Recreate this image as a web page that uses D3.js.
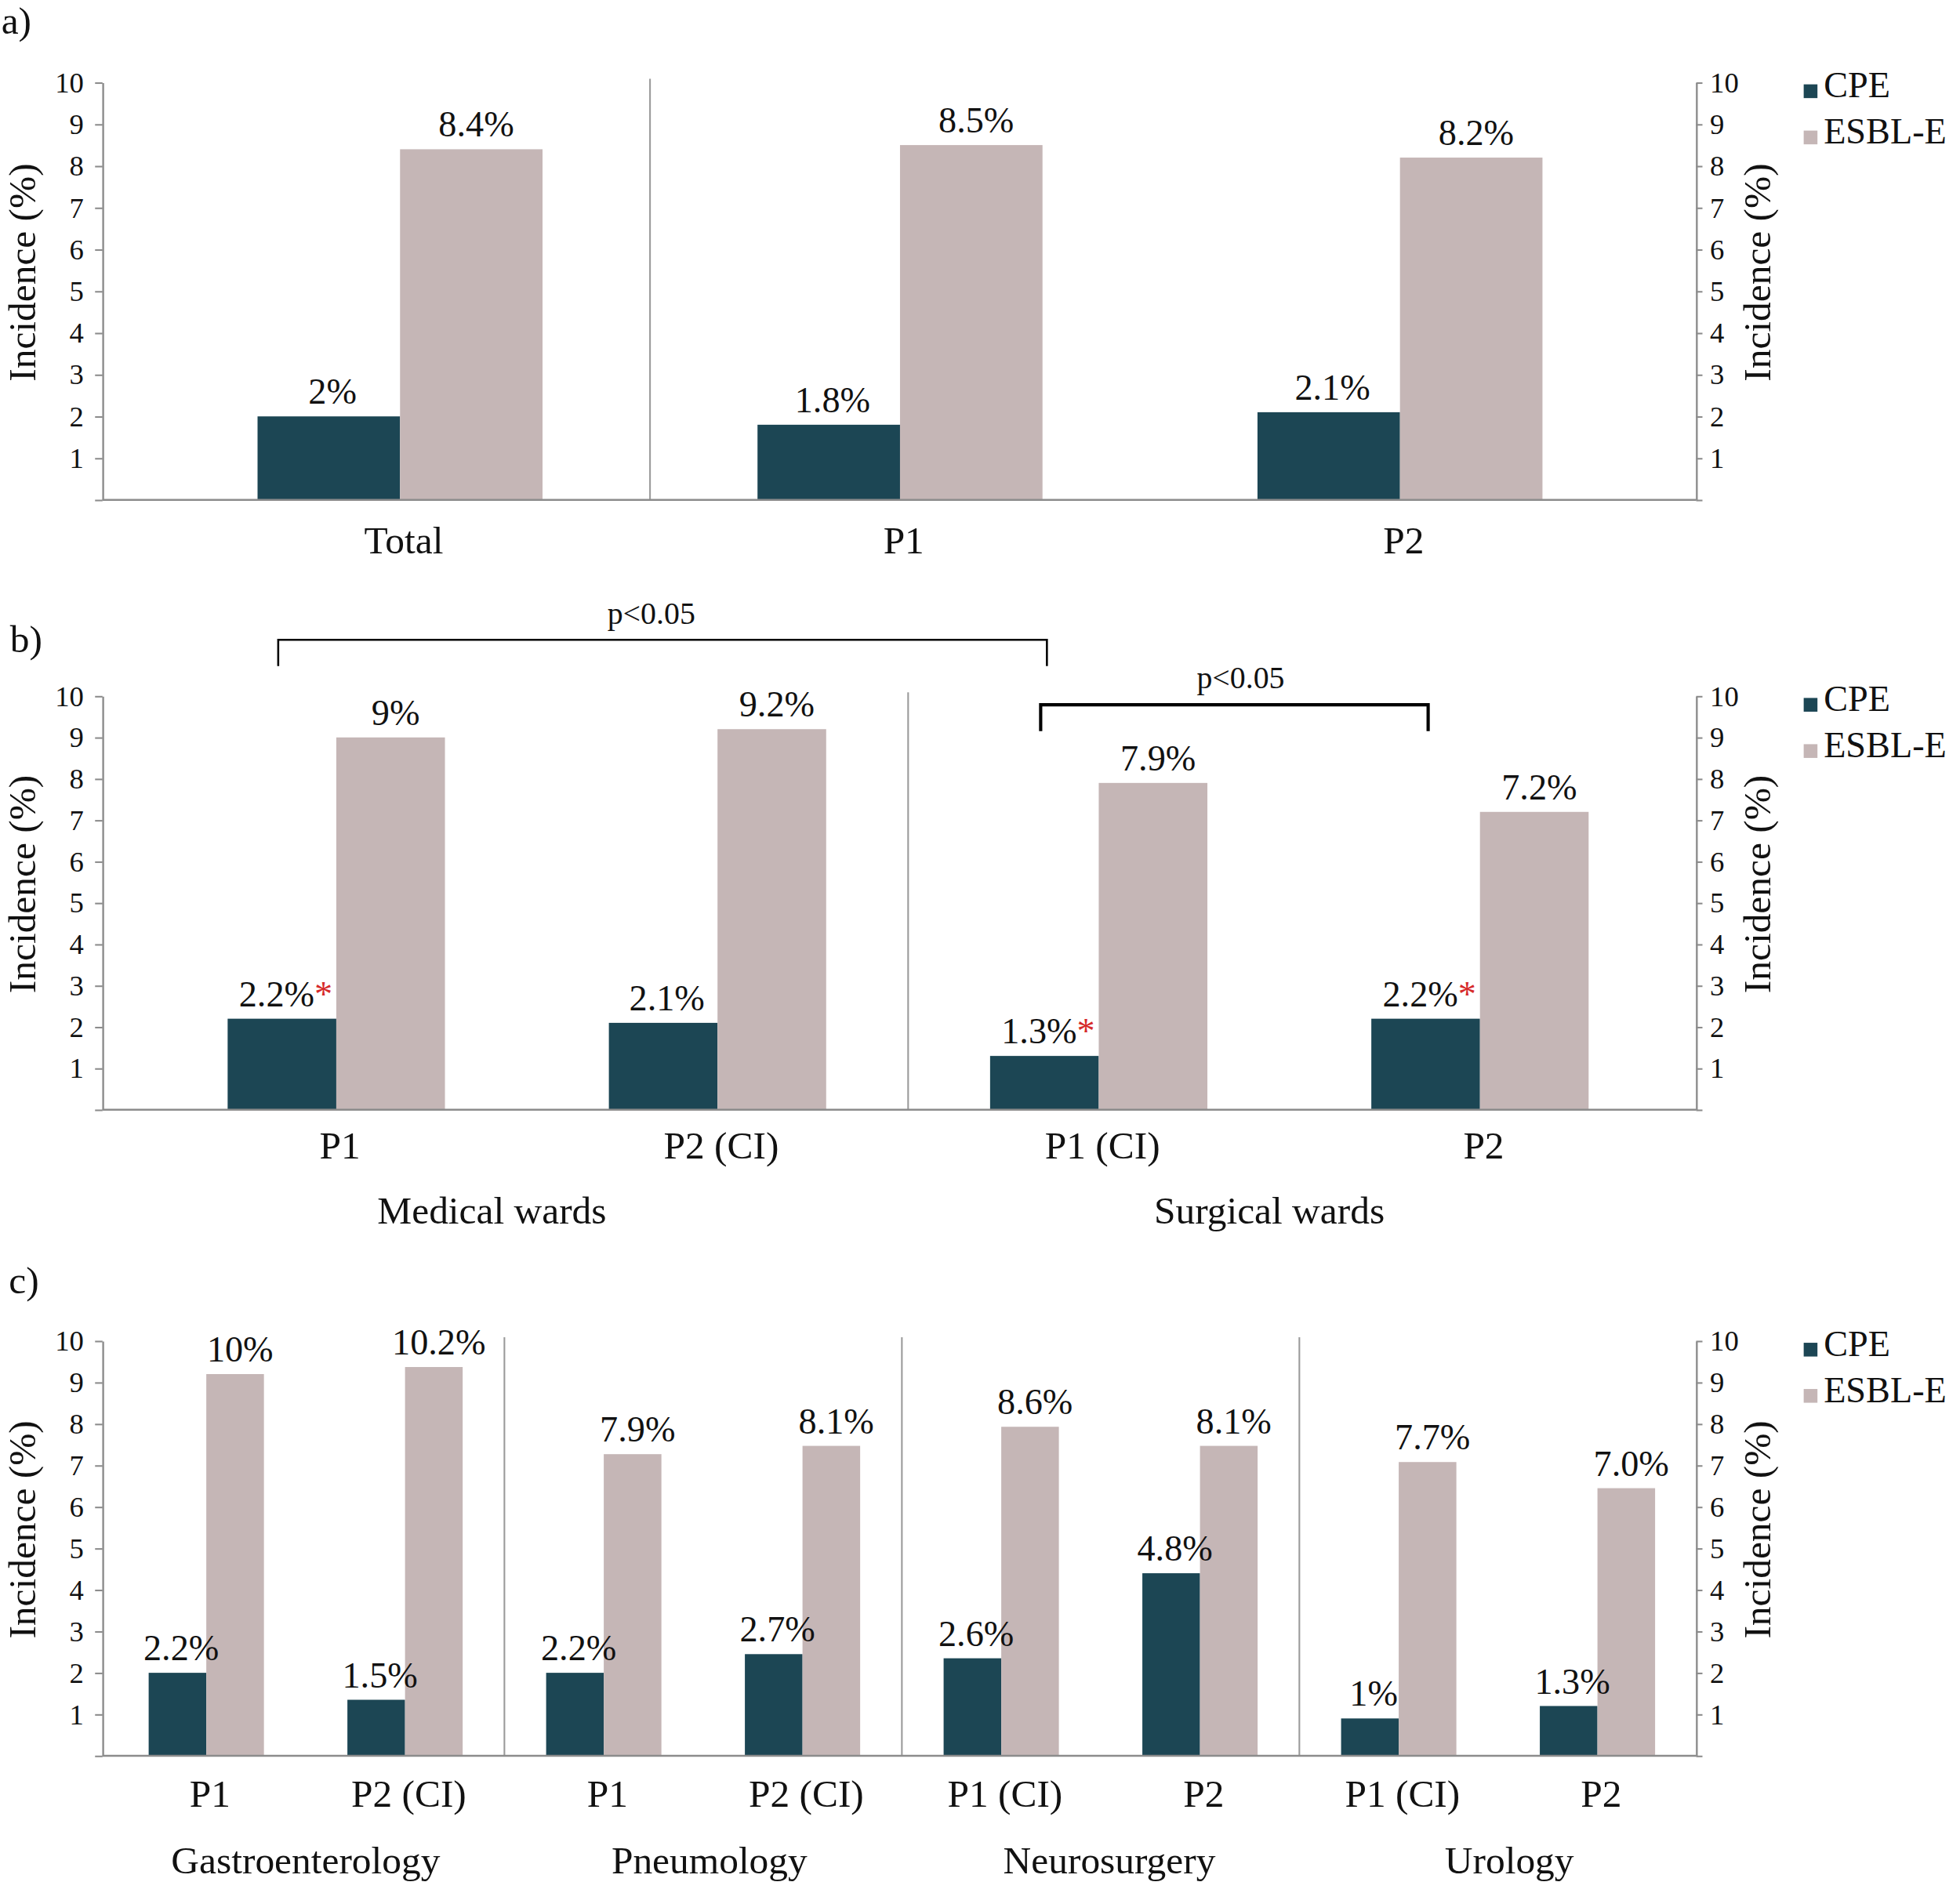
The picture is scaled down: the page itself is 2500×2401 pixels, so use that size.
<!DOCTYPE html>
<html>
<head>
<meta charset="utf-8">
<script src="https://cdn.jsdelivr.net/npm/d3@7"></script>
<style>
  body { margin: 0; background: #fff; }
  text { font-family: "Liberation Serif", serif; fill: #111; }
</style>
</head>
<body>
<script>
// series
const seriesNames = ["CPE", "ESBL-E"];
const colors = ["#1c4654", "#c5b6b6"];
const yTicks = [0, 1, 2, 3, 4, 5, 6, 7, 8, 9, 10];

// a) all wards
const catsA = ["Total", "P1", "P2"];
const cpeA = [2.0, 1.8, 2.1];
const esblA = [8.4, 8.5, 8.2];
const cpeLabA = ["2%", "1.8%", "2.1%"];
const esblLabA = ["8.4%", "8.5%", "8.2%"];

// b) medical / surgical wards
const catsB = ["P1", "P2 (CI)", "P1 (CI)", "P2"];
const groupsB = ["Medical wards", "Surgical wards"];
const cpeB = [2.2, 2.1, 1.3, 2.2];
const esblB = [9.0, 9.2, 7.9, 7.2];
const cpeLabB = ["2.2%", "2.1%", "1.3%", "2.2%"];
const esblLabB = ["9%", "9.2%", "7.9%", "7.2%"];
const starB = [true, false, true, true];
const bracketsB = [[0, 2, "p<0.05"], [2, 3, "p<0.05"]];

// c) by ward (bar heights as drawn, labels as printed)
const catsC = ["P1", "P2 (CI)", "P1", "P2 (CI)", "P1 (CI)", "P2", "P1 (CI)", "P2"];
const groupsC = ["Gastroenterology", "Pneumology", "Neurosurgery", "Urology"];
const cpeC = [2.0, 1.35, 2.0, 2.45, 2.35, 4.4, 0.9, 1.2];
const esblC = [9.2, 9.37, 7.27, 7.47, 7.93, 7.47, 7.08, 6.45];
const cpeLabC = ["2.2%", "1.5%", "2.2%", "2.7%", "2.6%", "4.8%", "1%", "1.3%"];
const esblLabC = ["10%", "10.2%", "7.9%", "8.1%", "8.6%", "8.1%", "7.7%", "7.0%"];

const W = 1568, H = 1506;
const svg = d3.select("body").append("svg")
  .attr("width", 2500).attr("height", 2401)
  .attr("viewBox", `0 0 ${W} ${H}`);

const axisLeftX = 82, axisRightX = 1357;

function drawPanel(p) {
  const g = svg.append("g");
  const n = p.cats.length;
  const y = d3.scaleLinear().domain([0, 10]).range([p.bottom, p.top]);
  const x = d3.scaleBand().domain(d3.range(n)).range(p.xr)
    .paddingInner(1 - p.frac).paddingOuter((1 - p.frac) / 2);
  const bw = x.bandwidth();
  const xs = d3.scaleBand().domain(seriesNames).range([0, bw]);
  const step = x.step();

  // panel letter
  g.append("text").attr("x", p.letterX).attr("y", p.letterY)
    .attr("font-size", 31).text(p.letter);

  // dividers
  p.dividers.forEach(k => {
    const dx = p.xr[0] + k * step;
    g.append("line").attr("x1", dx).attr("x2", dx)
      .attr("y1", y(10) - 3).attr("y2", p.bottom)
      .attr("stroke", "#9a9a9a").attr("stroke-width", 1.3);
  });

  // bars
  const rows = d3.range(n).map(i => ({ i, vals: [p.cpe[i], p.esbl[i]] }));
  const grp = g.selectAll("g.cat").data(rows).enter().append("g")
    .attr("transform", d => `translate(${x(d.i)},0)`);
  grp.selectAll("rect").data(d => d.vals.map((v, k) => ({ v, k })))
    .enter().append("rect")
    .attr("x", d => xs(seriesNames[d.k]))
    .attr("width", xs.bandwidth())
    .attr("y", d => y(d.v))
    .attr("height", d => y(0) - y(d.v))
    .attr("fill", d => colors[d.k]);

  // value labels
  rows.forEach(r => {
    const cx = x(r.i) + xs("CPE") + xs.bandwidth() / 2;
    const t = g.append("text").attr("x", cx + 3).attr("y", y(p.cpe[r.i]) - 10)
      .attr("text-anchor", "middle").attr("font-size", 29).text(p.cpeLab[r.i]);
    if (p.stars && p.stars[r.i]) {
      t.append("tspan").attr("fill", "#d62a2a").style("fill", "#d62a2a").text("*");
    }
    const ex = x(r.i) + xs("ESBL-E") + xs.bandwidth() / 2;
    g.append("text").attr("x", ex + 4).attr("y", y(p.esbl[r.i]) - 10)
      .attr("text-anchor", "middle").attr("font-size", 29).text(p.esblLab[r.i]);
  });

  // baseline
  g.append("line").attr("x1", axisLeftX).attr("x2", axisRightX)
    .attr("y1", y(0)).attr("y2", y(0))
    .attr("stroke", "#8c8c8c").attr("stroke-width", 1.5);

  // axes
  const fmt = d => d === 0 ? "" : d;
  const la = g.append("g").attr("transform", `translate(${axisLeftX},0)`)
    .call(d3.axisLeft(y).tickValues(yTicks).tickFormat(fmt).tickSize(6).tickSizeOuter(0).tickPadding(9));
  const ra = g.append("g").attr("transform", `translate(${axisRightX},0)`)
    .call(d3.axisRight(y).tickValues(yTicks).tickFormat(fmt).tickSize(5).tickSizeOuter(0).tickPadding(6));
  [la, ra].forEach(a => {
    a.select(".domain").attr("stroke", "#8c8c8c").attr("stroke-width", 1.5);
    a.selectAll(".tick line").attr("stroke", "#8c8c8c").attr("stroke-width", 1.3);
    a.selectAll(".tick text").attr("font-size", 23)
      .attr("font-family", "Liberation Serif").attr("fill", "#111");
  });

  // axis titles
  const midY = (p.top + p.bottom) / 2 - 15;
  g.append("text").attr("transform", `translate(28,${midY}) rotate(-90)`)
    .attr("text-anchor", "middle").attr("font-size", 31).text("Incidence (%)");
  g.append("text").attr("transform", `translate(1416,${midY}) rotate(-90)`)
    .attr("text-anchor", "middle").attr("font-size", 31).text("Incidence (%)");

  // category labels
  p.cats.forEach((c, i) => {
    g.append("text").attr("x", x(i) + bw / 2 + 3).attr("y", p.bottom + p.catDy)
      .attr("text-anchor", "middle").attr("font-size", 31).text(c);
  });

  // group labels
  if (p.groups) {
    p.groups.forEach((gname, k) => {
      const per = n / p.groups.length;
      const gx = p.xr[0] + (k + 0.5) * per * step + p.groupShift[k];
      g.append("text").attr("x", gx).attr("y", p.bottom + p.groupDy)
        .attr("text-anchor", "middle").attr("font-size", 31).text(gname);
    });
  }

  // legend
  seriesNames.forEach((s, k) => {
    const by = p.top + 12 + k * 37;
    g.append("rect").attr("x", 1443).attr("y", by - 10.5)
      .attr("width", 11).attr("height", 11).attr("fill", colors[k]);
    g.append("text").attr("x", 1459).attr("y", by)
      .attr("font-size", 29).text(s);
  });

  // significance brackets
  if (p.brackets) {
    p.brackets.forEach((b, k) => {
      const xa = x(b[0]) + xs("CPE") + xs.bandwidth() / 2 - 3;
      const xb = x(b[1]) + xs("CPE") + xs.bandwidth() / 2 + 2;
      const by = p.bracketY[k];
      g.append("path")
        .attr("d", `M${xa},${by + 21}V${by}H${xb}V${by + 21}`)
        .attr("fill", "none").attr("stroke", "#000")
        .attr("stroke-width", p.bracketW[k]);
      g.append("text").attr("x", (xa + xb) / 2 + p.bracketTextShift[k]).attr("y", by - 13)
        .attr("text-anchor", "middle").attr("font-size", 25).text(b[2]);
    });
  }
}

drawPanel({
  letter: "a)", letterX: 1, letterY: 27,
  top: 66, bottom: 400, xr: [120, 1320], frac: 0.57,
  cats: catsA, cpe: cpeA, esbl: esblA, cpeLab: cpeLabA, esblLab: esblLabA,
  dividers: [1], catDy: 43
});

drawPanel({
  letter: "b)", letterX: 8, letterY: 522,
  top: 557, bottom: 888, xr: [116.5, 1336.5], frac: 0.57,
  cats: catsB, cpe: cpeB, esbl: esblB, cpeLab: cpeLabB, esblLab: esblLabB,
  stars: starB, dividers: [2], catDy: 39,
  groups: groupsB, groupDy: 91, groupShift: [-28, -16],
  brackets: bracketsB, bracketY: [512, 564], bracketW: [1.6, 2.6],
  bracketTextShift: [-9, 5]
});

drawPanel({
  letter: "c)", letterX: 7, letterY: 1035,
  top: 1073, bottom: 1405, xr: [85.5, 1357.5], frac: 0.58,
  cats: catsC, cpe: cpeC, esbl: esblC, cpeLab: cpeLabC, esblLab: esblLabC,
  dividers: [2, 4, 6], catDy: 41,
  groups: groupsC, groupDy: 94, groupShift: [0, 5, 7, 9]
});
</script>
</body>
</html>
